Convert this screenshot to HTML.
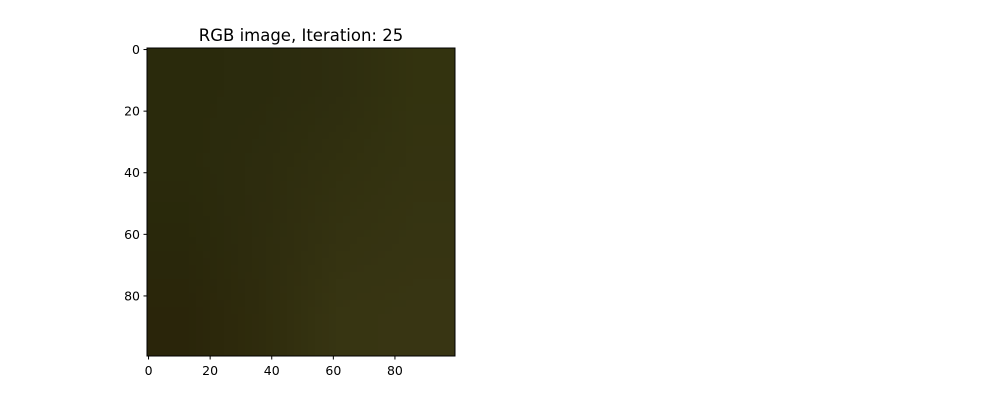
<!DOCTYPE html>
<html><head><meta charset="utf-8"><style>
body{margin:0;background:#fff;}
svg text{font-family:"DejaVu Sans","Liberation Sans",sans-serif;fill:#000;}
</style></head><body>
<svg width="1000" height="400" viewBox="0 0 1000 400">
<text x="301" y="41" font-size="16.5" text-anchor="middle">RGB image, Iteration: 25</text>
<g id="cells" shape-rendering="crispEdges"></g>
<rect x="147" y="48" width="308" height="308" fill="none" stroke="#000" stroke-width="1"/>
<g id="xt"></g><g id="yt"></g>
</svg>
<script>
const gridColors=[
["#2a2a0c","#2b2b0d","#2e2d0f","#33330f"],
["#2a2a0c","#2d2c0e","#31300f","#343311"],
["#29280b","#2e2c0e","#343211","#363412"],
["#2a250a","#2f2c0d","#373512","#383513"]];
const xTicks=[0,20,40,60,80];
const yTicks=[0,20,40,60,80];
const N=100,X0=147,Y0=48,S=308;
const sx=v=>X0+(v+0.5)*S/N, sy=v=>Y0+(v+0.5)*S/N;
const ns="http://www.w3.org/2000/svg";
const hex=c=>[1,3,5].map(i=>parseInt(c.substr(i,2),16));
const G=gridColors.map(r=>r.map(hex));
const n=G.length,m=G[0].length,R=44;
function sample(u,v){
 const fy=Math.min(Math.max(v*n-0.5,0),n-1),fx=Math.min(Math.max(u*m-0.5,0),m-1);
 const i=Math.min(Math.floor(fy),n-2),j=Math.min(Math.floor(fx),m-2),ty=fy-i,tx=fx-j;
 return [0,1,2].map(k=>Math.round(G[i][j][k]*(1-tx)*(1-ty)+G[i][j+1][k]*tx*(1-ty)+G[i+1][j][k]*(1-tx)*ty+G[i+1][j+1][k]*tx*ty));
}
const cells=document.getElementById('cells');
const step=S/R;
for(let a=0;a<R;a++)for(let b=0;b<R;b++){
 const c=sample((b+0.5)/R,(a+0.5)/R);
 const r=document.createElementNS(ns,'rect');
 r.setAttribute('x',X0+b*step);r.setAttribute('y',Y0+a*step);
 r.setAttribute('width',step+0.6);r.setAttribute('height',step+0.6);
 r.setAttribute('fill',`rgb(${c[0]},${c[1]},${c[2]})`);
 
 
 cells.appendChild(r);
}
const xt=document.getElementById('xt'),yt=document.getElementById('yt');
xTicks.forEach(v=>{
 const l=document.createElementNS(ns,'line');
 l.setAttribute('x1',sx(v));l.setAttribute('x2',sx(v));l.setAttribute('y1',356);l.setAttribute('y2',359.5);l.setAttribute('stroke','#000');
 
 
 xt.appendChild(l);
 const t=document.createElementNS(ns,'text');
 t.setAttribute('x',sx(v));t.setAttribute('y',375);t.setAttribute('font-size','12.5');t.setAttribute('text-anchor','middle');t.textContent=v;
 
 
 xt.appendChild(t);
});
yTicks.forEach(v=>{
 const l=document.createElementNS(ns,'line');
 l.setAttribute('x1',143.5);l.setAttribute('x2',147);l.setAttribute('y1',sy(v));l.setAttribute('y2',sy(v));l.setAttribute('stroke','#000');
 
 
 yt.appendChild(l);
 const t=document.createElementNS(ns,'text');
 t.setAttribute('x',140);t.setAttribute('y',sy(v)+4.5);t.setAttribute('font-size','12.5');t.setAttribute('text-anchor','end');t.textContent=v;
 
 
 yt.appendChild(t);
});
</script>
</body></html>
